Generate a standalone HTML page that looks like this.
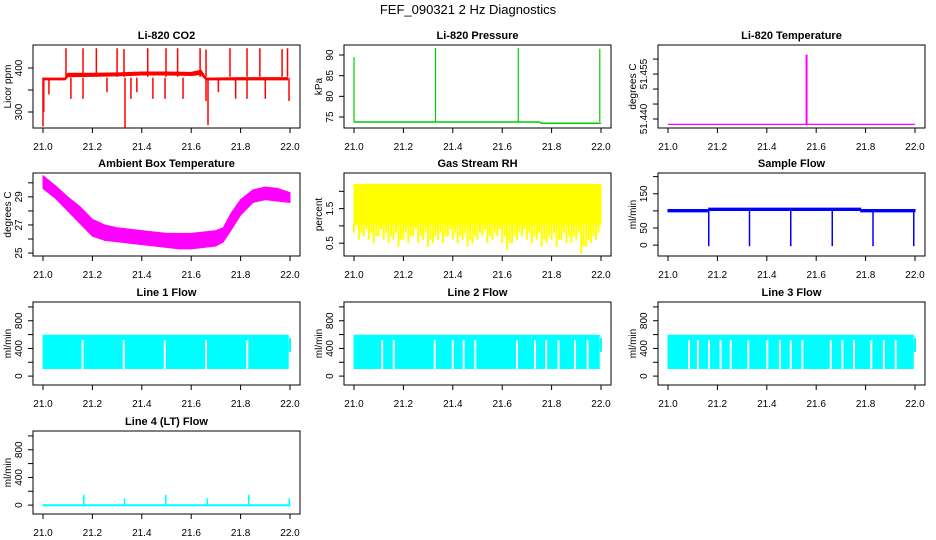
<!DOCTYPE html>
<html><head><meta charset="utf-8"><style>
html,body{margin:0;padding:0;background:#fff;}
svg{display:block;font-family:"Liberation Sans",sans-serif;}
</style></head><body>
<svg id="c" width="936" height="540" viewBox="0 0 936 540">
<text x="468" y="14" text-anchor="middle" font-size="13">FEF_090321  2 Hz Diagnostics</text>
</svg>
<script>
// ---- data ----
const xTicks = [21.0, 21.2, 21.4, 21.6, 21.8, 22.0];
const xTickLabels = ["21.0", "21.2", "21.4", "21.6", "21.8", "22.0"];

const co2BaseT  = [21.0, 21.09, 21.10, 21.2, 21.3, 21.4, 21.5, 21.6, 21.64, 21.66, 21.8, 21.99];
const co2BaseLo = [373, 373, 380, 381, 382, 384, 384, 383, 385, 373, 373, 373];
const co2BaseHi = [377, 377, 388, 388, 389, 391, 391, 390, 395, 377, 378, 378];
const co2UpT = [21.093, 21.162, 21.216, 21.30, 21.328, 21.424, 21.498, 21.545, 21.636, 21.66, 21.757, 21.826, 21.878, 21.968, 21.99];
const co2UpV = [445, 445, 445, 445, 443, 445, 445, 445, 445, 442, 445, 445, 445, 443, 445];
const co2DnT = [21.0, 21.003, 21.024, 21.113, 21.162, 21.259, 21.332, 21.356, 21.38, 21.445, 21.494, 21.567, 21.66, 21.668, 21.71, 21.78, 21.826, 21.9, 21.996];
const co2DnV = [267, 300, 340, 330, 330, 345, 265, 330, 345, 330, 330, 330, 325, 270, 345, 330, 330, 330, 325];

const presBaseT = [21.0, 21.75, 21.76, 22.0];
const presBaseV = [73.8, 73.8, 73.5, 73.5];
const presSpikeT = [21.0, 21.33, 21.665, 21.995];
const presSpikeV = [89.5, 91.7, 91.7, 91.5];

const t820BaseV = 51.4382;
const t820SpikeT = [21.561];
const t820SpikeV = [51.4615];

const ambT  = [21.0, 21.05, 21.1, 21.15, 21.2, 21.25, 21.3, 21.4, 21.5, 21.55, 21.6, 21.7, 21.73, 21.76, 21.8, 21.85, 21.9, 21.95, 22.0];
const ambHi = [30.5, 29.8, 29.0, 28.3, 27.4, 27.0, 26.8, 26.6, 26.4, 26.4, 26.4, 26.6, 26.8, 27.8, 28.8, 29.5, 29.7, 29.6, 29.3];
const ambLo = [29.6, 28.9, 28.0, 27.1, 26.2, 25.9, 25.8, 25.6, 25.4, 25.3, 25.3, 25.5, 25.8, 26.6, 27.7, 28.6, 28.8, 28.7, 28.6];

const rhTop = 2.2;
const rhBandLo = 1.05;
const rhDipT = [21.0, 21.02, 21.04, 21.06, 21.08, 21.1, 21.12, 21.14, 21.16, 21.18, 21.2, 21.22, 21.24, 21.26, 21.28, 21.3, 21.32, 21.34, 21.36, 21.38, 21.4, 21.42, 21.44, 21.46, 21.48, 21.5, 21.52, 21.54, 21.56, 21.58, 21.6, 21.62, 21.64, 21.66, 21.68, 21.7, 21.72, 21.74, 21.76, 21.78, 21.8, 21.82, 21.84, 21.86, 21.88, 21.9, 21.92, 21.94, 21.96, 21.98];
const rhDipV = [0.8, 0.6, 0.7, 0.6, 0.5, 0.7, 0.6, 0.5, 0.6, 0.4, 0.6, 0.5, 0.7, 0.5, 0.6, 0.4, 0.5, 0.6, 0.5, 0.7, 0.6, 0.5, 0.6, 0.4, 0.5, 0.6, 0.7, 0.5, 0.6, 0.7, 0.5, 0.3, 0.5, 0.6, 0.7, 0.6, 0.5, 0.6, 0.4, 0.5, 0.6, 0.4, 0.6, 0.5, 0.5, 0.6, 0.2, 0.4, 0.5, 0.6];

const sfBaseT  = [21.0, 21.165, 21.78, 22.0];
const sfBaseLo = [97, 101, 97, 97];
const sfBaseHi = [104, 108, 104, 104];
const sfDropT = [21.165, 21.33, 21.497, 21.665, 21.83, 21.995];
const sfDropV = [-3, -3, -3, -3, -3, -3];

const flowLo = 110;
const flowHi = 590;
const line1Gaps = [21.16, 21.327, 21.493, 21.66, 21.827];
const line2Gaps = [21.114, 21.161, 21.327, 21.40, 21.444, 21.491, 21.66, 21.733, 21.778, 21.828, 21.895, 21.946];
const line3Gaps = [21.085, 21.121, 21.166, 21.213, 21.254, 21.325, 21.402, 21.453, 21.497, 21.544, 21.659, 21.706, 21.753, 21.823, 21.874, 21.922];
const flowEnd = 21.993;

const l4SpikeT = [21.165, 21.33, 21.497, 21.665, 21.833, 21.997];
const l4SpikeV = [150, 100, 150, 100, 150, 100];

// ---- drawing ----
const svg = document.getElementById('c');
const NS = 'http://www.w3.org/2000/svg';
const colX = [33, 344, 658];
const rowY = [45, 173, 302, 431];
const W = 267, H = 83;

function el(tag, attrs, parent) {
  const e = document.createElementNS(NS, tag);
  for (const k in attrs) e.setAttribute(k, attrs[k]);
  (parent || svg).appendChild(e);
  return e;
}

function panel(col, row, yMin, yMax, yTicks, yLabels, title, ylab, name) {
  const x0 = colX[col], y0 = rowY[row];
  const g = el('g', {});
  
  
  const sx = t => x0 + 10 + (t - 21) * (W - 20);
  const sy = v => y0 + H - (v - yMin) / (yMax - yMin) * H;
  const plot = el('g', {}, g);
  
  
  const frame = el('rect', {x: x0, y: y0, width: W, height: H, fill: 'none', stroke: '#000', 'stroke-width': 1}, g);
  
  
  const tt = el('text', {x: x0 + W / 2, y: y0 - 6, 'text-anchor': 'middle', 'font-size': 11, 'font-weight': 'bold'}, g);
  tt.textContent = title;
  
  
  const xa = el('g', {}, g);
  
  
  xTicks.forEach((t, i) => {
    el('line', {x1: sx(t), x2: sx(t), y1: y0 + H, y2: y0 + H + 5, stroke: '#000'}, xa);
    const lb = el('text', {x: sx(t), y: y0 + H + 22, 'text-anchor': 'middle', 'font-size': 10}, xa);
    lb.textContent = xTickLabels[i];
  });
  const ya = el('g', {}, g);
  
  
  yTicks.forEach((v, i) => {
    el('line', {x1: x0 - 5, x2: x0, y1: sy(v), y2: sy(v), stroke: '#000'}, ya);
    if (yLabels[i]) {
      const lb = el('text', {x: 0, y: 0, 'text-anchor': 'middle', 'font-size': 10,
        transform: `translate(${x0 - 11},${sy(v)}) rotate(-90)`}, ya);
      lb.textContent = yLabels[i];
    }
  });
  const yl = el('text', {x: 0, y: 0, 'text-anchor': 'middle', 'font-size': 10,
    transform: `translate(${x0 - 22},${y0 + H / 2}) rotate(-90)`}, g);
  yl.textContent = ylab;
  
  
  return {sx, sy, plot};
}

function band(p, T, lo, hi, color) {
  let d = 'M' + T.map((t, i) => p.sx(t) + ',' + p.sy(hi[i])).join('L');
  d += 'L' + T.map((t, i) => p.sx(t) + ',' + p.sy(lo[i])).reverse().join('L') + 'Z';
  el('path', {d, fill: color, stroke: color, 'stroke-width': 1}, p.plot);
}
function vline(p, t, v1, v2, color, w) {
  el('line', {x1: p.sx(t), x2: p.sx(t), y1: p.sy(v1), y2: p.sy(v2), stroke: color, 'stroke-width': w || 1.5}, p.plot);
}

// CO2
let p = panel(0, 0, 263.6, 452.3, [300, 350, 400], ['300', '', '400'], 'Li-820 CO2', 'Licor ppm', 'co2');
band(p, co2BaseT, co2BaseLo, co2BaseHi, '#ff0000');
co2UpT.forEach((t, i) => vline(p, t, 380, co2UpV[i], '#ff0000'));
co2DnT.forEach((t, i) => vline(p, t, 378, co2DnV[i], '#ff0000'));

// Pressure
p = panel(1, 0, 72.34, 92.42, [75, 80, 85, 90], ['75', '80', '85', '90'], 'Li-820 Pressure', 'kPa', 'pressure');
el('path', {d: 'M' + presBaseT.map((t, i) => p.sx(t) + ',' + p.sy(presBaseV[i])).join('L'), fill: 'none', stroke: '#00cc00', 'stroke-width': 1.5}, p.plot);
presSpikeT.forEach((t, i) => vline(p, t, presBaseV[0], presSpikeV[i], '#00cc00', 1.2));

// Li-820 Temperature
p = panel(2, 0, 51.437, 51.4647, [51.440, 51.445, 51.450, 51.455, 51.460], ['51.440', '', '', '51.455', ''], 'Li-820 Temperature', 'degrees C', 'li820-temperature');
el('line', {x1: p.sx(21.0), x2: p.sx(22.0), y1: p.sy(t820BaseV), y2: p.sy(t820BaseV), stroke: '#ff00ff', 'stroke-width': 1.2}, p.plot);
t820SpikeT.forEach((t, i) => vline(p, t, t820BaseV, t820SpikeV[i], '#ff00ff', 2));

// Ambient
p = panel(0, 1, 24.79, 30.70, [25, 26, 27, 28, 29, 30], ['25', '', '27', '', '29', ''], 'Ambient Box Temperature', 'degrees C', 'ambient-temperature');
band(p, ambT, ambLo, ambHi, '#ff00ff');

// RH
p = panel(1, 1, 0.129, 2.53, [0.5, 1.0, 1.5, 2.0], ['0.5', '', '1.5', ''], 'Gas Stream RH', 'percent', 'gas-stream-rh');
band(p, [21.0, 22.0], [rhBandLo, rhBandLo], [rhTop, rhTop], '#ffff00');
rhDipT.forEach((t, i) => {
  vline(p, t, rhBandLo, rhDipV[i], '#ffff00', 2);
  vline(p, t + 0.01, rhBandLo, rhDipV[i] + 0.2, '#ffff00', 2);
});

// Sample flow
p = panel(2, 1, -31.7, 210.6, [0, 50, 100, 150, 200], ['0', '50', '', '150', ''], 'Sample Flow', 'ml/min', 'sample-flow');
for (let i = 0; i < sfBaseT.length - 1; i++) {
  band(p, [sfBaseT[i], sfBaseT[i + 1]], [sfBaseLo[i], sfBaseLo[i]], [sfBaseHi[i], sfBaseHi[i]], '#0000ff');
}
sfDropT.forEach((t, i) => vline(p, t, 100, sfDropV[i], '#0000ff', 1.5));

// Line flows
const flowTicks = [0, 200, 400, 600, 800, 1000];
const flowLabels = ['0', '', '400', '', '800', ''];
[[0, 'Line 1 Flow', line1Gaps, 'line1-flow'], [1, 'Line 2 Flow', line2Gaps, 'line2-flow'], [2, 'Line 3 Flow', line3Gaps, 'line3-flow']].forEach(cfg => {
  const q = panel(cfg[0], 2, -128.6, 1071, flowTicks, flowLabels, cfg[1], 'ml/min', cfg[3]);
  band(q, [21.0, flowEnd], [flowLo, flowLo], [flowHi, flowHi], '#00ffff');
  vline(q, 22.0, 350, 550, '#00ffff', 2);
  cfg[2].forEach(t => vline(q, t, flowLo - 5, 520, '#ffffff', 2));
});

// Line 4
p = panel(0, 3, -128.6, 1071, flowTicks, flowLabels, 'Line 4 (LT) Flow', 'ml/min', 'line4-flow');
band(p, [21.0, 22.0], [-10, -10], [5, 5], '#00ffff');
l4SpikeT.forEach((t, i) => vline(p, t, 0, l4SpikeV[i], '#00ffff', 1.5));
</script>
</body></html>
